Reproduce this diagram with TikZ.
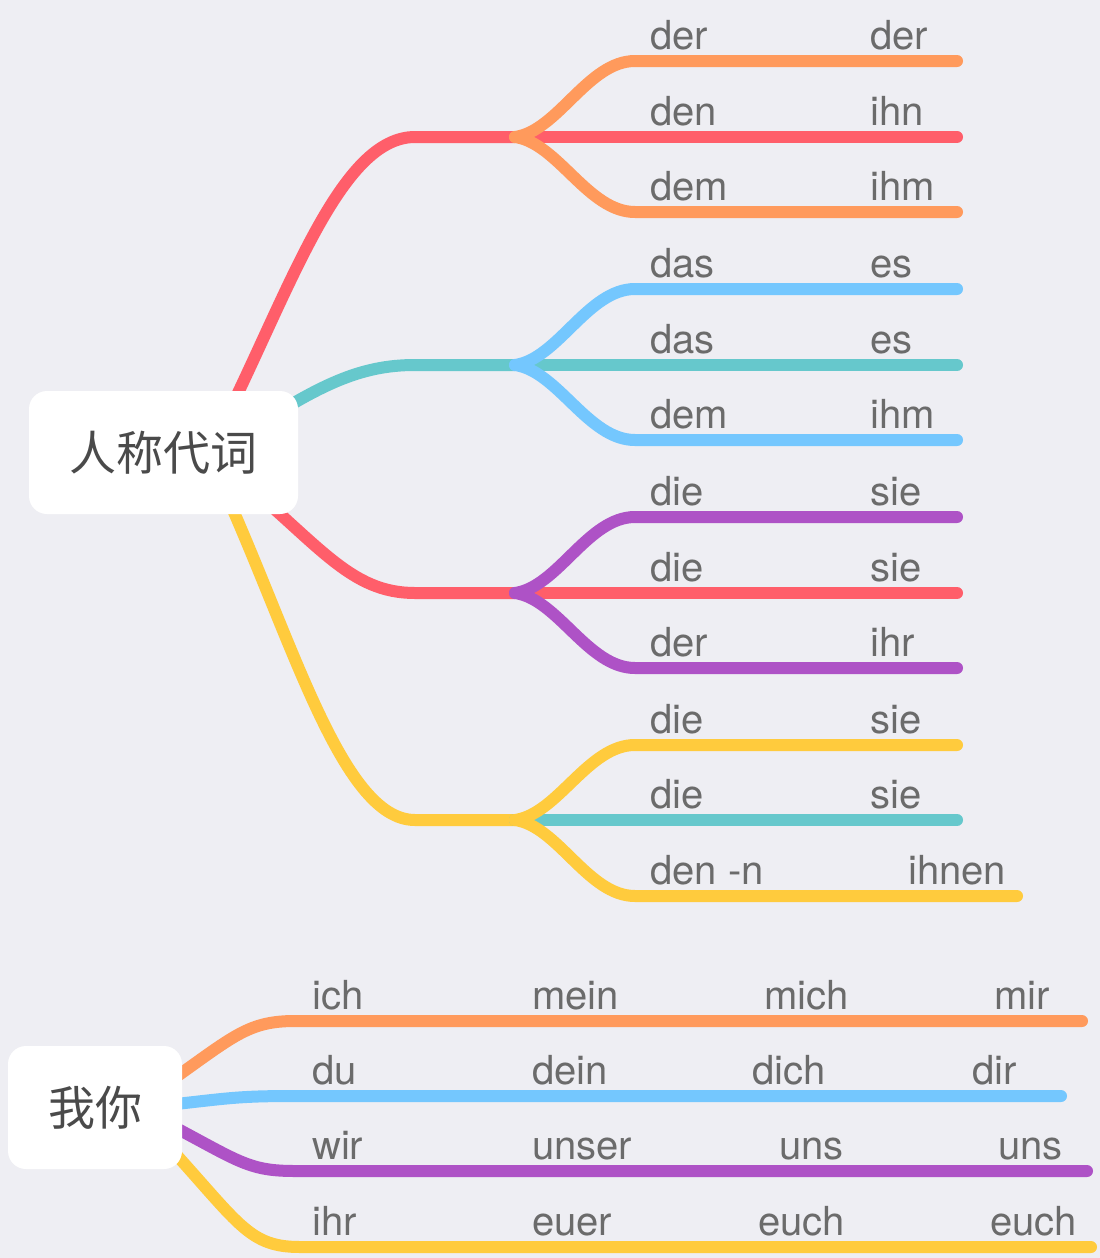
\documentclass[tikz,border=0pt]{standalone}
\usepackage{fontspec}
\setmainfont{TeX Gyre Heros}
\newfontfamily\cjk{Noto Sans CJK SC}
\definecolor{bg}{HTML}{EEEEF3}
\definecolor{cred}{HTML}{FF5E6A}
\definecolor{corange}{HTML}{FF9A5C}
\definecolor{cteal}{HTML}{66C8CC}
\definecolor{cblue}{HTML}{74C7FE}
\definecolor{cpurple}{HTML}{AE52C6}
\definecolor{cyellow}{HTML}{FFCB3D}
\definecolor{txt}{HTML}{6B6B6B}
\definecolor{cjktxt}{HTML}{4A4A4A}
\tikzset{
  br/.style={line width=12pt, line cap=round},
  lbl/.style={anchor=base west, inner sep=0pt, text=txt, font=\fontsize{40}{44}\selectfont},
  rootbox/.style={fill=white, rounded corners=18pt, inner sep=0pt, text=cjktxt, font=\cjk\fontsize{47}{50}\selectfont},
}
\begin{document}
\begin{tikzpicture}[x=1pt,y=-1pt]
\useasboundingbox (0,0) rectangle (1100,1258);
\fill[bg] (0,0) rectangle (1100,1258);

% ---------- group coordinates (top) ----------
\coordinate (s1) at (220,430);  \coordinate (h1) at (415,137); \coordinate (j1) at (515,137);
\coordinate (s2) at (250,430);  \coordinate (h2) at (415,365); \coordinate (j2) at (515,365);
\coordinate (s3) at (235,475);  \coordinate (h3) at (415,593); \coordinate (j3) at (515,593);
\coordinate (s4) at (215,470);  \coordinate (h4) at (415,820); \coordinate (j4) at (515,820);

% rows
\coordinate (a1) at (635,61);  \coordinate (e1) at (957,61);
\coordinate (e2) at (957,137);
\coordinate (a3) at (635,212); \coordinate (e3) at (957,212);
\coordinate (a4) at (635,289); \coordinate (e4) at (957,289);
\coordinate (e5) at (957,365);
\coordinate (a6) at (635,440); \coordinate (e6) at (957,440);
\coordinate (a7) at (635,517); \coordinate (e7) at (957,517);
\coordinate (e8) at (957,593);
\coordinate (a9) at (635,668); \coordinate (e9) at (957,668);
\coordinate (a10) at (635,745); \coordinate (e10) at (957,745);
\coordinate (e11) at (957,820);
\coordinate (a12) at (635,896); \coordinate (e12) at (1017,896);

% main curves
\draw[br,cred] (s1) .. controls (290,290) and (340,137) .. (h1) -- (j1);
\draw[br,cteal] (s2) .. controls (320,385) and (360,365) .. (h2) -- (j2);
\draw[br,cred] (s3) .. controls (320,545) and (350,593) .. (h3) -- (j3);
\draw[br,cyellow] (s4) .. controls (290,630) and (340,820) .. (h4) -- (j4);

% middle rows
\draw[br,cred] (j1) -- (e2);
\draw[br,cteal] (j2) -- (e5);
\draw[br,cred] (j3) -- (e8);
\draw[br,cteal] (j4) -- (e11);

% sub-branches
\draw[br,corange] (j1) .. controls (558,131) and (588,61) .. (a1) -- (e1);
\draw[br,corange] (j1) .. controls (558,143) and (588,212) .. (a3) -- (e3);
\draw[br,cblue] (j2) .. controls (558,359) and (588,289) .. (a4) -- (e4);
\draw[br,cblue] (j2) .. controls (558,371) and (588,440) .. (a6) -- (e6);
\draw[br,cpurple] (j3) .. controls (558,587) and (588,517) .. (a7) -- (e7);
\draw[br,cpurple] (j3) .. controls (558,599) and (588,668) .. (a9) -- (e9);
\draw[br,cyellow] (j4) .. controls (558,814) and (588,745) .. (a10) -- (e10);
\draw[br,cyellow] (j4) .. controls (558,826) and (588,896) .. (a12) -- (e12);

\node[rootbox, minimum width=269pt, minimum height=123pt] (root1) at (163.5,452.5) {人称代词};

% labels top
\node[lbl] (l1a) at (650,49) {der};   \node[lbl] (l1b) at (870,49) {der};
\node[lbl] (l2a) at (650,125) {den};  \node[lbl] (l2b) at (870,125) {ihn};
\node[lbl] (l3a) at (650,200) {dem};  \node[lbl] (l3b) at (870,200) {ihm};
\node[lbl] (l4a) at (650,277) {das};  \node[lbl] (l4b) at (870,277) {es};
\node[lbl] (l5a) at (650,353) {das};  \node[lbl] (l5b) at (870,353) {es};
\node[lbl] (l6a) at (650,428) {dem};  \node[lbl] (l6b) at (870,428) {ihm};
\node[lbl] (l7a) at (650,505) {die};  \node[lbl] (l7b) at (870,505) {sie};
\node[lbl] (l8a) at (650,581) {die};  \node[lbl] (l8b) at (870,581) {sie};
\node[lbl] (l9a) at (650,656) {der};  \node[lbl] (l9b) at (870,656) {ihr};
\node[lbl] (l10a) at (650,733) {die}; \node[lbl] (l10b) at (870,733) {sie};
\node[lbl] (l11a) at (650,808) {die}; \node[lbl] (l11b) at (870,808) {sie};
\node[lbl] (l12a) at (650,884) {den -n}; \node[lbl] (l12b) at (908,884) {ihnen};

% ---------- bottom ----------
\coordinate (t1) at (176,1077); \coordinate (u1) at (295,1021); \coordinate (v1) at (1082,1021);
\coordinate (t2) at (176,1104); \coordinate (u2) at (295,1096); \coordinate (v2) at (1061,1096);
\coordinate (t3) at (176,1128); \coordinate (u3) at (295,1171); \coordinate (v3) at (1087,1171);
\coordinate (t4) at (172,1150); \coordinate (u4) at (300,1247); \coordinate (v4) at (1091,1247);

\draw[br,corange] (t1) .. controls (235,1035) and (250,1021) .. (u1) -- (v1);
\draw[br,cblue] (t2) .. controls (230,1098) and (240,1096) .. (u2) -- (v2);
\draw[br,cpurple] (t3) .. controls (240,1162) and (250,1171) .. (u3) -- (v3);
\draw[br,cyellow] (t4) .. controls (240,1225) and (250,1247) .. (u4) -- (v4);

\node[rootbox, minimum width=174pt, minimum height=123pt] (root2) at (95,1107.5) {我你};

\node[lbl] (b1a) at (312,1009) {ich}; \node[lbl] (b1b) at (532,1009) {mein};
\node[lbl] (b1c) at (764,1009) {mich}; \node[lbl] (b1d) at (994,1009) {mir};
\node[lbl] (b2a) at (312,1084) {du}; \node[lbl] (b2b) at (532,1084) {dein};
\node[lbl] (b2c) at (752,1084) {dich}; \node[lbl] (b2d) at (972,1084) {dir};
\node[lbl] (b3a) at (312,1159) {wir}; \node[lbl] (b3b) at (532,1159) {unser};
\node[lbl] (b3c) at (779,1159) {uns}; \node[lbl] (b3d) at (998,1159) {uns};
\node[lbl] (b4a) at (312,1235) {ihr}; \node[lbl] (b4b) at (532,1235) {euer};
\node[lbl] (b4c) at (758,1235) {euch}; \node[lbl] (b4d) at (990,1235) {euch};
\end{tikzpicture}
\end{document}
